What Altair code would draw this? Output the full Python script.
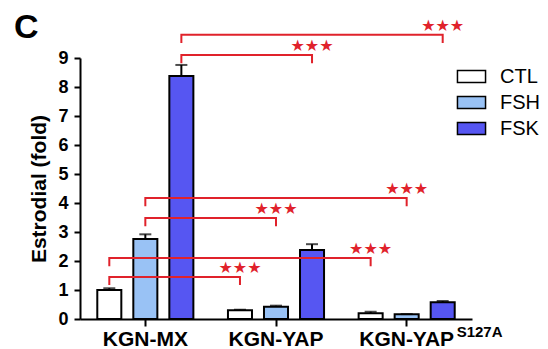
import altair as alt
import pandas as pd

# ---- data ----
groups = ["KGN-MX", "KGN-YAP", "KGN-YAP-S127A"]
treatments = ["CTL", "FSH", "FSK"]
mean_ctl = [1.00, 0.30, 0.20]
mean_fsh = [2.76, 0.42, 0.16]
mean_fsk = [8.38, 2.38, 0.58]
err_ctl = [0.06, 0.02, 0.05]
err_fsh = [0.16, 0.04, 0.01]
err_fsk = [0.38, 0.20, 0.04]

br_from_group = ["KGN-MX", "KGN-MX", "KGN-MX", "KGN-MX", "KGN-MX", "KGN-MX"]
br_from_trt = ["FSK", "FSK", "FSH", "FSH", "CTL", "CTL"]
br_to_group = ["KGN-YAP-S127A", "KGN-YAP", "KGN-YAP-S127A", "KGN-YAP", "KGN-YAP-S127A", "KGN-YAP"]
br_to_trt = ["FSK", "FSK", "FSH", "FSH", "CTL", "CTL"]
br_level = [9.80, 9.10, 4.17, 3.48, 2.10, 1.45]
br_label = ["★★★", "★★★", "★★★", "★★★", "★★★", "★★★"]

# ---- tables ----
rows = []
for trt, m, e in [("CTL", mean_ctl, err_ctl), ("FSH", mean_fsh, err_fsh), ("FSK", mean_fsk, err_fsk)]:
    for g, mv, ev in zip(groups, m, e):
        rows.append({"group": g, "trt": trt, "value": mv, "top": mv + ev})
bars_df = pd.DataFrame(rows)

DROP = 0.28
line_rows = []
star_rows = []
for i in range(len(br_level)):
    lv = br_level[i]
    pts = [(br_from_group[i], br_from_trt[i], lv - DROP),
           (br_from_group[i], br_from_trt[i], lv),
           (br_to_group[i], br_to_trt[i], lv),
           (br_to_group[i], br_to_trt[i], lv - DROP)]
    for k, (g, t, y) in enumerate(pts):
        line_rows.append({"id": i, "ord": k, "group": g, "trt": t, "value": y})
    star_rows.append({"group": br_to_group[i], "trt": br_to_trt[i], "value": lv, "label": br_label[i]})
lines_df = pd.DataFrame(line_rows)
stars_df = pd.DataFrame(star_rows)
sup_df = pd.DataFrame({"group": ["KGN-YAP-S127A"], "value": [0], "label": ["S127A"]})
panel_df = pd.DataFrame({"label": ["C"]})

FONT = "Liberation Sans"
RED = "#e0222b"

xenc = alt.X("group:N",
             scale=alt.Scale(domain=groups, paddingInner=0, paddingOuter=0),
             axis=alt.Axis(title=None, labelAngle=0, labelFontSize=21, tickSize=7,
                           labelPadding=2,
                           labelExpr="datum.value == 'KGN-YAP-S127A' ? 'KGN-YAP' : datum.value"))
xoff = alt.XOffset("trt:N", scale=alt.Scale(domain=treatments, paddingInner=0.333, paddingOuter=0.48))
yenc = alt.Y("value:Q", scale=alt.Scale(domain=[0, 9], nice=False),
             axis=alt.Axis(title="Estrodial (fold)", values=list(range(10)), tickCount=10,
                           labelOverlap=False, tickSize=6,
                           labelPadding=6, labelFontSize=18, titleFontSize=21, titlePadding=8))

bars = alt.Chart(bars_df).mark_bar(stroke="black", strokeWidth=2).encode(
    x=xenc, xOffset=xoff, y=yenc,
    fill=alt.Fill("trt:N", scale=alt.Scale(domain=treatments, range=["#ffffff", "#99c2f5", "#5656f2"]),
                  legend=alt.Legend(title=None))
)
errs = alt.Chart(bars_df).mark_rule(color="black", strokeWidth=2).encode(
    x=xenc, xOffset=xoff, y="value:Q", y2="top:Q")
caps = alt.Chart(bars_df).mark_tick(color="black", thickness=2, size=12, orient="horizontal").encode(
    x=xenc, xOffset=xoff, y="top:Q")
brackets = alt.Chart(lines_df).mark_line(color=RED, strokeWidth=2, interpolate="linear").encode(
    x=xenc, xOffset=xoff, y="value:Q", detail="id:N", order="ord:Q")
stars = alt.Chart(stars_df).mark_text(color=RED, fontSize=16, font="DejaVu Sans",
                                      baseline="middle", dy=-9).encode(
    x=xenc, xOffset=xoff, y="value:Q", text="label:N")
sup = alt.Chart(sup_df).mark_text(color="black", fontSize=15, fontWeight="bold", font=FONT,
                                  align="left", baseline="alphabetic", dx=50, dy=18).encode(
    x=xenc, y="value:Q", text="label:N")
panel = alt.Chart(panel_df).mark_text(color="black", fontSize=34, fontWeight="bold", font=FONT,
                                      align="left", baseline="alphabetic").encode(
    x=alt.value(-66), y=alt.value(-20), text="label:N")

chart = alt.layer(bars, errs, caps, brackets, stars, sup, panel).properties(
    width=392, height=261,
    autosize=alt.AutoSizeParams(type="none"),
    padding={"left": 72, "top": 50, "right": 68, "bottom": 30},
).configure_view(stroke=None).configure_axis(
    domainColor="black", domainWidth=2, tickColor="black", tickWidth=2, grid=False,
    labelFont=FONT, labelFontWeight="bold", labelColor="black",
    titleFont=FONT, titleFontWeight="bold", titleColor="black"
).configure_legend(
    orient="none", legendX=377, legendY=4, padding=0, rowPadding=1,
    symbolType="M-1.04,-0.45H1.04V0.45H-1.04Z", symbolSize=729,
    symbolStrokeColor="black", symbolStrokeWidth=1.5,
    labelFont=FONT, labelFontSize=20, labelColor="black", labelOffset=14
)

chart.save("out.html", embed_options={"renderer": "svg", "actions": False})
